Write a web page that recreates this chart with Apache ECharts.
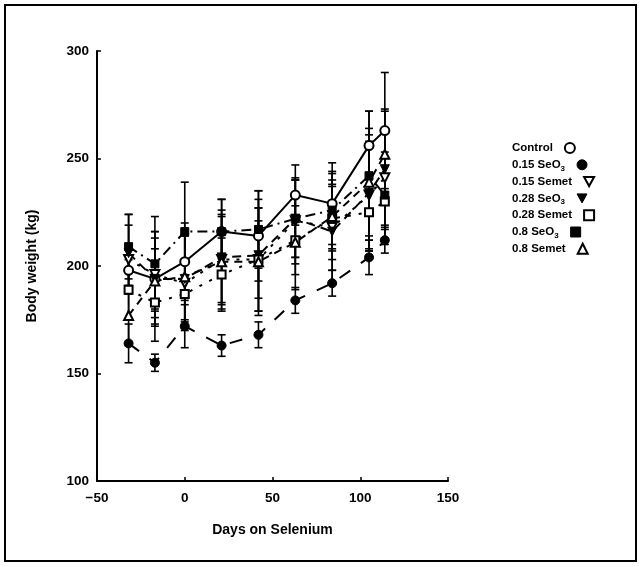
<!DOCTYPE html>
<html>
<head>
<meta charset="utf-8">
<script src="https://cdn.jsdelivr.net/npm/echarts@6/dist/echarts.min.js"></script>
<style>
  html, body { margin: 0; padding: 0; background: #fff; }
  #chart { width: 642px; height: 567px; }
</style>
</head>
<body>
<div id="chart"></div>
<script>
// days on selenium (x) and group means / SE
var days = [-32, -17, 0, 21, 42, 63, 84, 105, 114];

var control    = [198, 194, 202, 216, 214, 233, 229, 256, 263];
var seo3_015   = [164, 155, 172, 163, 168, 184, 192, 204, 212];
var semet_015  = [203, 196, 192, 203, 203, 221, 218, 233, 241];
var seo3_028   = [206, 194, 194, 204, 205, 222, 216, 234, 245];
var semet_028  = [189, 183, 187, 196, 203, 212, 222, 225, 230];
var seo3_08    = [209, 201, 216, 216, 217, 222, 226, 242, 233];
var semet_08   = [177, 193, 195, 202, 202, 211, 223, 239, 252];

var errControl   = [11, 14, 18, 15, 21, 14, 19, 16, 27];
var errSeo3_015  = [9, 4, 10, 5, 6, 6, 6, 8, 6];
var errSemet_015 = [16, 20, 22, 20, 24, 20, 20, 25, 22];
var errSeo3_028  = [18, 22, 20, 22, 26, 18, 24, 27, 28];
var errSemet_028 = [14, 18, 16, 17, 18, 16, 15, 18, 20];
var errSeo3_08   = [15, 22, 23, 15, 18, 18, 18, 30, 20];
var errSemet_08  = [14, 20, 20, 22, 25, 22, 20, 25, 20];

var xTicks = [-50, 0, 50, 100, 150];
var yTicks = [100, 150, 200, 250, 300];

var FONT = '"Liberation Sans", Arial, sans-serif';
var downTri = 'path://M0,0 L10,0 L5,9 Z';

// name, values, errors, symbol, filled, dash
var groups = [
    ['Control',       control,   errControl,   'circle',    false, 'solid'],
    ['0.15 SeO{s|3}', seo3_015,  errSeo3_015,  'circle',    true,  [13, 13]],
    ['0.15 Semet',    semet_015, errSemet_015, downTri,     false, [3, 7]],
    ['0.28 SeO{s|3}', seo3_028,  errSeo3_028,  downTri,     true,  [9, 6]],
    ['0.28 Semet',    semet_028, errSemet_028, 'rect',      false, [3, 8]],
    ['0.8 SeO{s|3}',  seo3_08,   errSeo3_08,   'rect',      true,  [10, 5, 2, 5]],
    ['0.8 Semet',     semet_08,  errSemet_08,  'triangle',  false, [8, 6]]
];

function pairs(vals) {
    var out = [];
    for (var i = 0; i < days.length; i++) out.push([days[i], vals[i]]);
    return out;
}

function errData(vals, errs) {
    var out = [];
    for (var i = 0; i < days.length; i++) out.push([days[i], vals[i] - errs[i], vals[i] + errs[i]]);
    return out;
}

function renderErr(params, api) {
    var lo = api.coord([api.value(0), api.value(1)]);
    var hi = api.coord([api.value(0), api.value(2)]);
    var w = 4;
    var st = { stroke: '#000', lineWidth: 1.6 };
    return {
        type: 'group',
        children: [
            { type: 'line', shape: { x1: lo[0], y1: lo[1], x2: hi[0], y2: hi[1] }, style: st },
            { type: 'line', shape: { x1: lo[0] - w, y1: lo[1], x2: lo[0] + w, y2: lo[1] }, style: st },
            { type: 'line', shape: { x1: hi[0] - w, y1: hi[1], x2: hi[0] + w, y2: hi[1] }, style: st }
        ]
    };
}

var series = [];
var legends = [];
groups.forEach(function (g) {
    series.push({
        type: 'custom',
        renderItem: renderErr,
        data: errData(g[1], g[2]),
        z: 1,
        silent: true
    });
});
groups.forEach(function (g, i) {
    var st = g[4] ? { color: '#000', borderColor: '#000', borderWidth: 1 }
                  : { color: '#fff', borderColor: '#000', borderWidth: 2 };
    series.push({
        name: g[0],
        type: 'line',
        data: pairs(g[1]),
        symbol: g[3],
        symbolSize: g[3] === 'rect' ? 8 : 9,
        showAllSymbol: true,
        lineStyle: { color: '#000', width: 2, type: g[5] },
        itemStyle: st,
        z: 3
    });
    // one legend per row so every text starts at the same x and its marker follows it
    legends.push({
        left: 512,
        top: 142 + i * 16.8,
        padding: 0,
        align: 'right',
        itemWidth: 10,
        itemHeight: 10,
        selectedMode: false,
        data: [{ name: g[0], icon: g[3], itemStyle: st }],
        textStyle: {
            fontFamily: FONT, fontWeight: 'bold', fontSize: 11.5, color: '#000', padding: [0, 7, 0, 0],
            rich: { s: { fontFamily: FONT, fontWeight: 'bold', fontSize: 8, padding: [7, 0, 0, 0] } }
        }
    });
});

var chart = echarts.init(document.getElementById('chart'));
chart.setOption({
    backgroundColor: '#fff',
    animation: false,
    textStyle: { fontFamily: FONT, fontWeight: 'bold', color: '#000' },
    graphic: [{
        type: 'rect',
        shape: { x: 5, y: 5, width: 631, height: 556 },
        style: { fill: 'none', stroke: '#000', lineWidth: 2 }
    }],
    grid: { left: 97, right: 194, top: 51, bottom: 86 },
    legend: legends,
    xAxis: {
        type: 'value',
        min: xTicks[0],
        max: xTicks[xTicks.length - 1],
        interval: 50,
        name: 'Days on Selenium',
        nameLocation: 'middle',
        nameGap: 42,
        nameTextStyle: { fontFamily: FONT, fontWeight: 'bold', fontSize: 14 },
        axisLine: { onZero: false, lineStyle: { color: '#000', width: 2 } },
        axisTick: { inside: true, length: 4, lineStyle: { color: '#000', width: 1.5 } },
        axisLabel: {
            fontFamily: FONT, fontWeight: 'bold', fontSize: 13.5, color: '#000', margin: 10,
            formatter: function (v) { return v < 0 ? '\u2212' + Math.abs(v) : '' + v; }
        },
        splitLine: { show: false }
    },
    yAxis: {
        type: 'value',
        min: yTicks[0],
        max: yTicks[yTicks.length - 1],
        interval: 50,
        name: 'Body weight (kg)',
        nameLocation: 'middle',
        nameGap: 58,
        nameTextStyle: { fontFamily: FONT, fontWeight: 'bold', fontSize: 14 },
        axisLine: { show: true, onZero: false, lineStyle: { color: '#000', width: 2 } },
        axisTick: { show: true, inside: true, length: 4, lineStyle: { color: '#000', width: 1.5 } },
        axisLabel: { fontFamily: FONT, fontWeight: 'bold', fontSize: 13.5, color: '#000', margin: 8 },
        splitLine: { show: false }
    },
    series: series
});
</script>
</body>
</html>
